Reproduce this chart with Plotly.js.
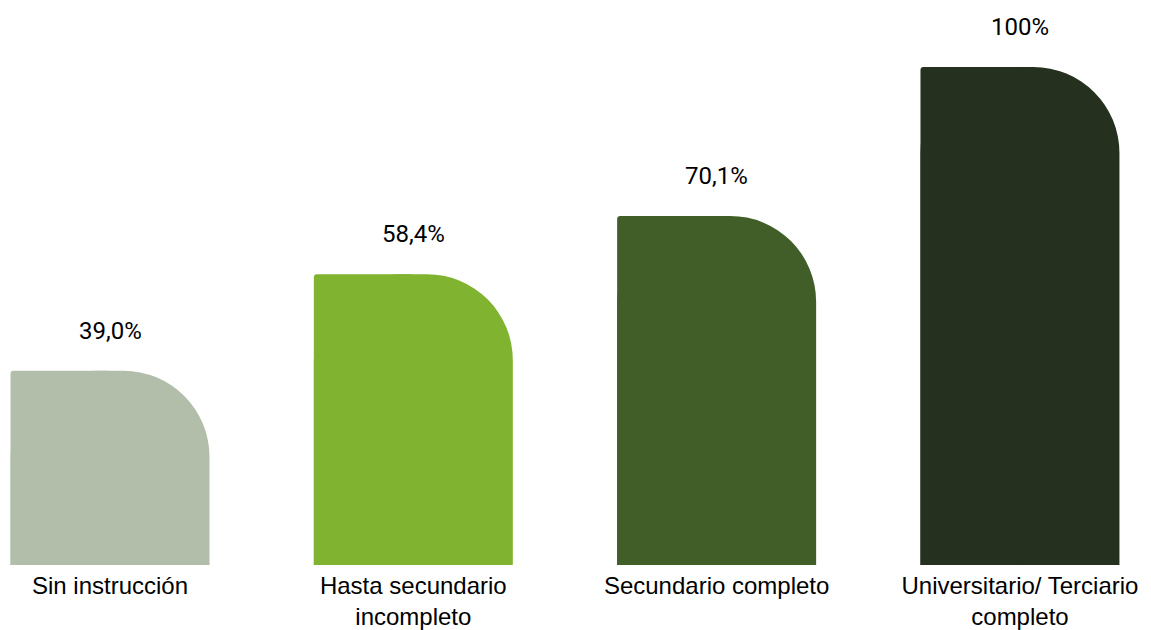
<!DOCTYPE html>
<html>
<head>
<meta charset="utf-8">
<script src="https://cdn.plot.ly/plotly-3.0.1.min.js"></script>
<style>html,body{margin:0;padding:0;background:#fff;}#chart{width:1151px;height:630px;}</style>
</head>
<body>
<div id="chart"></div>
<script>
const categories = ["Sin instrucción", "Hasta secundario<br>incompleto", "Secundario completo", "Universitario/ Terciario<br>completo"];
const values = [39.0, 58.4, 70.1, 100];
const valueLabels = ["39,0%", "58,4%", "70,1%", "100%"];
const colors = ["#B2BEAA", "#80B32F", "#415E29", "#25301E"];

const xs = [0, 1, 2, 3];
const barWidth = 0.656;
const VALUE_FONT = "Roboto, 'Open Sans', sans-serif";
const TICK_FONT = "'Liberation Sans', Arial, sans-serif";

const rounded = {
  type: "bar", x: xs, y: values,
  width: barWidth, offset: -barWidth / 2,
  marker: { color: colors, cornerradius: 86, line: { width: 0 } },
  hoverinfo: "skip", showlegend: false
};
const leftHalf = {
  type: "bar", x: xs, y: values,
  width: barWidth / 2, offset: -barWidth / 2,
  marker: { color: colors, cornerradius: 3, line: { width: 0 } },
  hoverinfo: "skip", showlegend: false
};

const annotations = xs.map((x, i) => ({
  x: x, y: values[i], xref: "x", yref: "y",
  text: valueLabels[i], showarrow: false,
  yanchor: "middle", yshift: 40,
  font: { family: VALUE_FONT, size: 24, color: "#000" }
}));

const layout = {
  width: 1151, height: 630,
  margin: { l: 0, r: 0, t: 0, b: 65, pad: 0 },
  paper_bgcolor: "#fff", plot_bgcolor: "#fff",
  barmode: "overlay",
  xaxis: {
    range: [-0.3627, 3.432], tickvals: xs, ticktext: categories,
    showgrid: false, zeroline: false, showline: false, ticks: "",
    tickfont: { family: TICK_FONT, size: 24, color: "#000" },
    ticklabelstandoff: 4
  },
  yaxis: {
    range: [0, 113.45], visible: false, showgrid: false, zeroline: false
  },
  annotations: annotations
};

Plotly.newPlot("chart", [rounded, leftHalf], layout, { displayModeBar: false, staticPlot: true });
</script>
</body>
</html>
